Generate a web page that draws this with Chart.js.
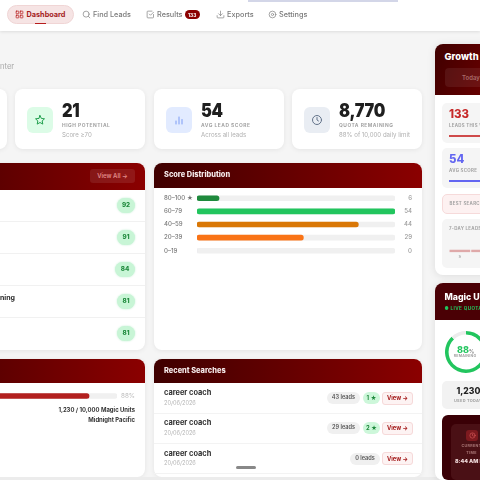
<!DOCTYPE html>
<html>
<head>
<meta charset="utf-8">
<title>Dashboard</title>
<script src="https://cdn.jsdelivr.net/npm/chart.js@4/dist/chart.umd.min.js"></script>
<style>
html, body { margin: 0; padding: 0; width: 480px; height: 480px; overflow: hidden; background: #f5f5f5; font-family: Inter, "Open Sans", sans-serif; }
#page { position: absolute; left: 0; top: 0; width: 480px; height: 480px; overflow: hidden; filter: blur(.3px); }
.box { position: absolute; box-sizing: border-box; overflow: hidden; }
.t { position: absolute; white-space: nowrap; line-height: 1; transform: translateY(-50%); }
.r { transform: translate(-100%, -50%); }
.c { transform: translate(-50%, -50%); }
.card { background: #fff; border-radius: 8px; box-shadow: 0 1px 5px rgba(0,0,0,.07); }
.head { background: linear-gradient(90deg, #3f0000, #8b0000); }
.num { font-weight: 900; color: #1f1f1f; font-size: 19px; letter-spacing: -.3px; transform: translateY(-50%) scaleX(.86); transform-origin: left center; }
.lab { font-weight: 700; color: #a3a3a3; font-size: 4.9px; letter-spacing: .5px; }
.lab2 { font-size: 4.4px; letter-spacing: .3px; }
.sub { color: #b0b0b0; font-size: 6.1px; }
.nav { color: #7a7a7a; font-size: 7.3px; font-weight: 500; }
.title { color: #f5eaea; font-weight: 800; font-size: 7.4px; }
canvas { position: absolute; }
svg { position: absolute; }
</style>
</head>
<body>
<div id="page"></div>
<script>
const scoreCategories = ['80–100 ★', '60–79', '40–59', '20–39', '0–19'];
const scoreValues = [6, 54, 44, 29, 0];
const scoreColors = ['#1f8a3d', '#22c55e', '#d97706', '#f97316', '#e5e7eb'];
const leadScores = [92, 91, 84, 81, 81];
const searchNames = ['career coach', 'career coach', 'career coach'];
const searchDates = ['20/06/2026', '20/06/2026', '20/06/2026'];
const searchLeads = [43, 29, 0];
const searchHigh = [1, 2, 0];
const quotaRemaining = [88, 12];
const quotaUsedLabels = ['Remaining', 'Used'];
const quotaBarValue = [88];
const dayLabels = ['S', 'S', 'M', 'T', 'W', 'T', 'F'];
const dayLeads = [0, 0, 0, 0, 0, 0, 0];

const page = document.getElementById('page');

function box(cls, left, top, width, height, extra) {
    const el = document.createElement('div');
    el.className = 'box ' + cls;
    el.style.cssText = `left:${left}px;top:${top}px;width:${width}px;height:${height}px;` + (extra || '');
    page.appendChild(el);
    return el;
}

function text(str, left, y, cls, extra) {
    const el = document.createElement('div');
    el.className = 't ' + (cls || '');
    el.style.cssText = `left:${left}px;top:${y}px;` + (extra || '');
    el.textContent = str;
    page.appendChild(el);
    return el;
}

function icon(left, top, size, body, color) {
    const wrap = document.createElement('div');
    wrap.innerHTML = `<svg style="left:${left}px;top:${top}px" width="${size}" height="${size}" viewBox="0 0 24 24" fill="none" stroke="${color}" stroke-width="2" stroke-linecap="round" stroke-linejoin="round">${body}</svg>`;
    page.appendChild(wrap.firstChild);
}

function newCanvas(left, top, width, height) {
    const c = document.createElement('canvas');
    c.width = width;
    c.height = height;
    c.style.cssText = `left:${left}px;top:${top}px;width:${width}px;height:${height}px`;
    page.appendChild(c);
    return c;
}

// top nav
box('', 0, 0, 480, 31, 'background:#fff;box-shadow:0 1px 3px rgba(0,0,0,.1)');
box('', 248, 0, 150, 2, 'background:#d3d6e8');
box('', 7, 5, 67, 19, 'background:#f6e4e4;border:1px solid #f0d5d5;border-radius:10px');
box('', 35, 23, 11, 1, 'background:#b71c1c');
icon(14.5, 10, 9, '<rect x="3" y="3" width="7" height="7" rx="1"/><rect x="14" y="3" width="7" height="7" rx="1"/><rect x="3" y="14" width="7" height="7" rx="1"/><rect x="14" y="14" width="7" height="7" rx="1"/>', '#b71c1c');
text('Dashboard', 26.5, 14.5, '', 'color:#a51c1c;font-size:7.3px;font-weight:700');
icon(81.5, 10, 9, '<circle cx="11" cy="11" r="8"/><path d="M21 21l-4-4"/>', '#888');
text('Find Leads', 93, 14.5, 'nav');
icon(145.5, 10, 9, '<path d="M9 11l3 3 8-8"/><path d="M20 12v7a2 2 0 0 1-2 2H5a2 2 0 0 1-2-2V5a2 2 0 0 1 2-2h11"/>', '#888');
text('Results', 157, 14.5, 'nav');
box('', 185, 10, 14.5, 9, 'background:#8b0000;border-radius:5px');
text('133', 192.2, 14.5, 'c', 'color:#fff;font-size:4.8px;font-weight:700');
icon(215.5, 10, 9, '<path d="M21 15v4a2 2 0 0 1-2 2H5a2 2 0 0 1-2-2v-4"/><path d="M7 10l5 5 5-5"/><path d="M12 15V3"/>', '#888');
text('Exports', 227, 14.5, 'nav');
icon(267.5, 10, 9, '<circle cx="12" cy="12" r="3"/><circle cx="12" cy="12" r="9"/>', '#888');
text('Settings', 279, 14.5, 'nav');

text('nter', 0, 66.5, '', 'color:#a8a8a8;font-size:7.6px');

// stat cards
box('card', -60, 89, 67, 60);
const stats = [
    { x: 15, bg: '#dcfce7', num: '21', lab: 'HIGH POTENTIAL', sub: 'Score ≥70', color: '#22a04f', svg: '<path d="M12 3l2.7 5.9 6.3.7-4.7 4.3 1.3 6.3L12 17l-5.6 3.2 1.3-6.3L3 9.6l6.3-.7z"/>' },
    { x: 154, bg: '#e2ebff', num: '54', lab: 'AVG LEAD SCORE', sub: 'Across all leads', color: '#7c9cf5', svg: '<path d="M6 20v-6M12 20V6M18 20v-9"/>' },
    { x: 292, bg: '#e9edf3', num: '8,770', lab: 'QUOTA REMAINING', sub: '88% of 10,000 daily limit', color: '#64748b', svg: '<circle cx="12" cy="12" r="9"/><path d="M12 7v5l3 2"/>' }
];
stats.forEach(s => {
    box('card', s.x, 89, 130, 60);
    box('', s.x + 12, 107, 26, 26, `background:${s.bg};border-radius:6px`);
    icon(s.x + 19, 114, 12, s.svg, s.color);
    text(s.num, s.x + 47, 109.5, 'num');
    text(s.lab, s.x + 47, 124.5, 'lab');
    text(s.sub, s.x + 47, 134.5, 'sub');
});

// leads card
box('card', -100, 163, 245, 187);
box('head', -100, 163, 245, 27, 'border-radius:8px 8px 0 0');
box('', 90, 169, 45, 14, 'background:rgba(255,255,255,.09);border-radius:3px');
text('View All →', 112.5, 176, 'c', 'color:#e08a8a;font-size:6px;font-weight:600');
leadScores.forEach((v, i) => {
    const y = 205 + i * 32;
    if (i > 0) box('', 0, y - 16, 145, 1, 'background:#f1f1f1');
    const w = v === 84 ? 20 : 18;
    box('', 135 - w, y - 7.5, w, 15, 'background:#c8f5d6;border-radius:8px;box-shadow:0 0 2px rgba(34,197,94,.3)');
    text(String(v), 135 - w / 2, y, 'c', 'color:#1f8a3d;font-size:6.3px;font-weight:800');
});
text('ning', 0, 296.5, '', 'color:#2a2a2a;font-size:7px;font-weight:700');

// score distribution card
box('card', 154, 163, 268, 187);
box('head', 154, 163, 268, 25, 'border-radius:8px 8px 0 0');
text('Score Distribution', 164, 174.5, 'title');

// quota card and recent searches
box('card', -100, 359, 245, 118);
box('head', -100, 359, 245, 24, 'border-radius:8px 8px 0 0');
text('88%', 135, 395.5, 'r', 'color:#bdbdbd;font-size:6.3px');
text('1,230 / 10,000 Magic Units', 135, 409.5, 'r', 'color:#333;font-size:5.9px;font-weight:700');
text('Midnight Pacific', 135, 420, 'r', 'color:#333;font-size:5.9px;font-weight:700');

box('card', 154, 359, 268, 118);
box('head', 154, 359, 268, 24, 'border-radius:8px 8px 0 0');
text('Recent Searches', 164, 370.5, 'title');
searchNames.forEach((name, i) => {
    const y = 398 + i * 30.4;
    box('', 154, y + 14.5, 268, 1, 'background:#f3f3f3');
    text(name, 164, y - 5, '', 'color:#2e2e2e;font-size:7.4px;font-weight:700');
    text(searchDates[i], 164, y + 5.5, '', 'color:#b5b5b5;font-size:5.6px');
    box('', 382, y - 6.5, 31, 13, 'background:#fdf3f3;border:1px solid #f6d9d9;border-radius:3px');
    text('View →', 397.5, y, 'c', 'color:#a51c1c;font-size:5.8px;font-weight:700');
    let right = 380;
    if (searchHigh[i] > 0) {
        box('', right - 17, y - 6, 17, 12, 'background:#cdf7da;border-radius:6px');
        text(searchHigh[i] + ' ★', right - 8.5, y, 'c', 'color:#1f8a3d;font-size:5.8px;font-weight:700');
        right -= 20;
    }
    const w = searchLeads[i] >= 10 ? 33 : 30;
    box('', right - w, y - 6, w, 12, 'background:#f0f0f0;border-radius:6px');
    text(searchLeads[i] + ' leads', right - w / 2, y, 'c', 'color:#555;font-size:5.6px;font-weight:600');
});
box('', 0, 477, 480, 3, 'background:#ececec');
box('', 236, 466, 20, 3, 'background:#888;border-radius:2px');

// growth panel
box('card', 435, 44, 80, 231, 'box-shadow:0 1px 8px rgba(0,0,0,.1)');
box('head', 435, 44, 80, 51, 'border-radius:8px 8px 0 0;background:linear-gradient(110deg,#3f0000,#7a0000)');
text('Growth Analytics', 444.5, 56.5, '', 'color:#fff;font-size:9.4px;font-weight:800');
box('', 445, 68, 50, 19, 'background:rgba(255,255,255,.07);border-radius:4px');
text('Today', 462, 77.5, '', 'color:#a86a6a;font-size:6px;font-weight:600');
box('', 442, 103, 60, 40, 'background:#f5f5f5;border-radius:5px');
text('133', 449, 115, '', 'color:#c62828;font-size:11.4px;font-weight:800');
text('LEADS THIS WEEK', 449, 126, 'lab lab2');
box('', 449, 135, 40, 1.5, 'background:#cf4a4a');
box('', 442, 148, 60, 40, 'background:#f5f5f5;border-radius:5px');
text('54', 449, 160, '', 'color:#6366f1;font-size:11.4px;font-weight:800');
text('AVG SCORE', 449, 171, 'lab lab2');
box('', 449, 180, 40, 1.5, 'background:#6366f1');
box('', 442, 194, 60, 20, 'background:#fdf1f1;border:1px solid #f6dada;border-radius:5px');
text('BEST SEARCH', 449.5, 204, 'lab lab2');
box('', 442, 219, 60, 49, 'background:#f5f5f5;border-radius:5px');
text('7-DAY LEADS', 449, 228.5, 'lab lab2');

// magic units panel
box('card', 435, 283, 80, 197, 'box-shadow:0 1px 8px rgba(0,0,0,.1)');
box('head', 435, 283, 80, 37, 'border-radius:8px 8px 0 0;background:#4a0005');
text('Magic Units', 444.5, 297, '', 'color:#fff;font-size:8.8px;font-weight:800');
text('● LIVE QUOTA', 444.5, 309, '', 'color:#22c55e;font-size:4.6px;font-weight:700;letter-spacing:.4px');
const ringText = text('88', 457, 348.5, '', 'color:#22c55e;font-size:9px;font-weight:800');
const pct = document.createElement('span');
pct.textContent = '%';
pct.style.cssText = 'font-size:5px;color:#888';
ringText.appendChild(pct);
text('REMAINING', 465, 356.5, 'c lab', 'font-size:3.6px;letter-spacing:.2px');
box('', 442, 381, 60, 28, 'background:#f2f2f2;border-radius:5px');
text('1,230', 468.5, 390.5, 'c', 'color:#222;font-size:8.6px;font-weight:800');
text('USED TODAY', 468, 400.5, 'c lab', 'font-size:3.9px;letter-spacing:.3px');
box('', 442, 415, 60, 65, 'background:#3a0006;border-radius:6px');
box('', 451, 424, 60, 56, 'background:#4a1015;border-radius:5px');
box('', 466, 429.5, 12, 11.5, 'background:#7e1a1f;border-radius:3px');
icon(468.5, 431.5, 7, '<circle cx="12" cy="12" r="9"/><path d="M12 7v5l3 2"/>', '#e06060');
text('CURRENT', 471.5, 446, 'c', 'color:#a77;font-size:3.7px;font-weight:700;letter-spacing:.3px');
text('TIME', 471.5, 452.5, 'c', 'color:#a77;font-size:3.7px;font-weight:700;letter-spacing:.3px');
text('8:44 AM PDT', 455, 461.5, '', 'color:#f3dede;font-size:5.4px;font-weight:800');

Chart.defaults.font.family = 'Inter, "Open Sans", sans-serif';
Chart.defaults.animation = false;
Chart.defaults.responsive = false;
Chart.defaults.plugins.legend.display = false;
Chart.defaults.plugins.tooltip.enabled = false;

function barWithTrack(canvas, labels, values, colors, max, thickness, extraScales) {
    return new Chart(canvas, {
        type: 'bar',
        data: {
            labels: labels,
            datasets: [
                { data: values, backgroundColor: colors, order: 1 },
                { data: labels.map(() => max), backgroundColor: '#f0f0f0', order: 2 }
            ]
        },
        options: {
            indexAxis: 'y',
            grouped: false,
            barThickness: thickness,
            borderRadius: 3,
            borderSkipped: false,
            layout: { padding: 0 },
            scales: Object.assign({
                x: { display: false, min: 0, max: max }
            }, extraScales)
        }
    });
}

function sideTicks(weight) {
    return { color: '#777', font: { size: 6.1, weight: weight }, padding: 0, crossAlign: 'far', autoSkip: false };
}

// score distribution bars
barWithTrack(newCanvas(164, 188, 248, 73), scoreCategories, scoreValues, scoreColors, Math.max(...scoreValues), 5, {
    y: {
        grid: { display: false, drawTicks: false }, border: { display: false },
        ticks: sideTicks(500),
        afterFit: s => { s.width = 33; }
    },
    yRight: {
        type: 'category', position: 'right', axis: 'y', labels: scoreValues.map(String),
        grid: { display: false, drawTicks: false }, border: { display: false },
        ticks: Object.assign(sideTicks(500), { color: '#999' }),
        afterFit: s => { s.width = 17; }
    }
});

// quota progress, the start of the bar sits off the left edge
barWithTrack(newCanvas(-116, 392.5, 233, 6), ['Quota'], quotaBarValue, '#b3201f', 100, 5, {
    y: { display: false }
});

// ring
new Chart(newCanvas(445, 331, 42, 42), {
    type: 'doughnut',
    data: {
        labels: quotaUsedLabels,
        datasets: [{ data: quotaRemaining, backgroundColor: ['#22c55e', '#ececec'], borderWidth: 0 }]
    },
    options: { cutout: '83%', layout: { padding: 0 } }
});

// 7-day mini bars
new Chart(newCanvas(449, 241, 152, 20), {
    type: 'bar',
    data: {
        labels: dayLabels,
        datasets: [{ data: dayLeads, backgroundColor: '#dfa9a9', minBarLength: 2, barThickness: 20 }]
    },
    options: {
        layout: { padding: 0 },
        scales: {
            x: {
                grid: { display: false, drawTicks: false }, border: { display: false },
                ticks: { color: '#888', font: { size: 4 }, padding: 2, maxRotation: 0 }
            },
            y: { display: false, min: 0, max: 10 }
        }
    }
});
</script>
</body>
</html>
